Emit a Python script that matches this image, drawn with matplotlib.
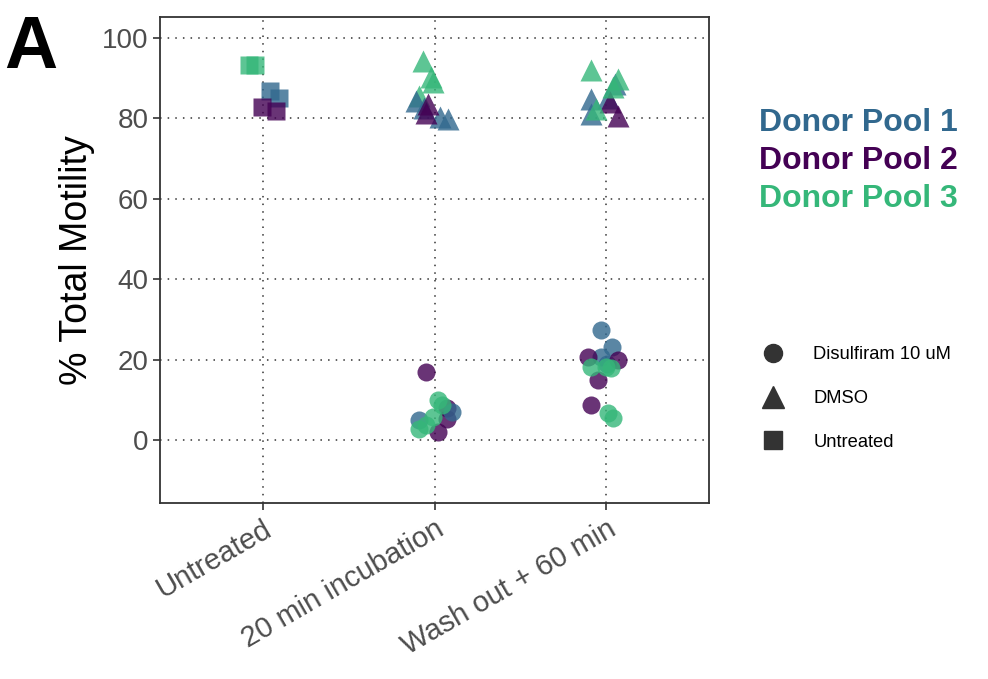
import matplotlib.pyplot as plt
from matplotlib.lines import Line2D

plt.rcParams['font.family'] = ['Liberation Sans', 'DejaVu Sans']

# categories on the x axis
timepoints = ['Untreated', '20 min incubation', 'Wash out + 60 min']
pools = ['Donor Pool 1', 'Donor Pool 2', 'Donor Pool 3']
pool_colors = {'Donor Pool 1': '#31688e', 'Donor Pool 2': '#440154', 'Donor Pool 3': '#35b779'}
treatments = ['Disulfiram 10 uM', 'DMSO', 'Untreated']
treat_markers = {'Disulfiram 10 uM': 'o', 'DMSO': '^', 'Untreated': 's'}

# per point: timepoint index, donor pool, jitter, % total motility
untreated_tp = [0, 0, 0, 0, 0, 0]
untreated_pool = ['Donor Pool 3', 'Donor Pool 3', 'Donor Pool 1', 'Donor Pool 1', 'Donor Pool 2', 'Donor Pool 2']
untreated_jit = [-0.08, -0.045, 0.04, 0.09, -0.005, 0.075]
untreated_val = [93.2, 93.2, 86.7, 85.1, 82.8, 81.8]

dmso_tp = [1, 1, 1, 1, 1, 1, 1, 1, 1, 1,
           2, 2, 2, 2, 2, 2, 2, 2, 2, 2]
dmso_pool = ['Donor Pool 3', 'Donor Pool 3', 'Donor Pool 3', 'Donor Pool 3',
             'Donor Pool 1', 'Donor Pool 1', 'Donor Pool 1', 'Donor Pool 1',
             'Donor Pool 2', 'Donor Pool 2',
             'Donor Pool 1', 'Donor Pool 1', 'Donor Pool 1', 'Donor Pool 1',
             'Donor Pool 2', 'Donor Pool 2',
             'Donor Pool 3', 'Donor Pool 3', 'Donor Pool 3', 'Donor Pool 3']
dmso_jit = [-0.07, -0.02, -0.01, -0.09,
            -0.11, -0.06, 0.03, 0.075,
            -0.04, -0.05,
            -0.09, 0.05, -0.09, 0.01,
            0.065, 0.02,
            -0.09, 0.07, 0.04, -0.06]
dmso_val = [94.3, 90.2, 89.0, 85.6,
            84.4, 82.5, 80.3, 79.8,
            83.5, 81.3,
            84.8, 88.5, 81.0, 85.0,
            80.5, 84.0,
            92.0, 89.8, 87.8, 82.3]

dsf_tp = [1, 1, 1, 1, 1, 1, 1, 1, 1, 1, 1,
          2, 2, 2, 2, 2, 2, 2, 2, 2, 2, 2, 2, 2]
dsf_pool = ['Donor Pool 2', 'Donor Pool 2', 'Donor Pool 2', 'Donor Pool 2',
            'Donor Pool 1', 'Donor Pool 1',
            'Donor Pool 3', 'Donor Pool 3', 'Donor Pool 3', 'Donor Pool 3', 'Donor Pool 3',
            'Donor Pool 1', 'Donor Pool 1', 'Donor Pool 1', 'Donor Pool 1',
            'Donor Pool 2', 'Donor Pool 2', 'Donor Pool 2', 'Donor Pool 2',
            'Donor Pool 3', 'Donor Pool 3', 'Donor Pool 3', 'Donor Pool 3', 'Donor Pool 3']
dsf_jit = [-0.05, 0.07, 0.07, 0.02,
           0.1, -0.09,
           0.02, 0.04, -0.01, -0.09, -0.05,
           -0.03, 0.035, -0.03, 0.005,
           -0.11, 0.07, -0.05, -0.09,
           -0.09, 0.0, 0.025, 0.01, 0.04]
dsf_val = [17.0, 8.0, 5.2, 1.9,
           7.0, 5.0,
           10.0, 8.7, 5.7, 2.8, 3.8,
           27.4, 23.1, 20.6, 19.0,
           20.6, 19.9, 14.9, 8.7,
           18.2, 18.2, 17.9, 6.7, 5.5]

groups = [('Untreated', untreated_tp, untreated_pool, untreated_jit, untreated_val),
          ('DMSO', dmso_tp, dmso_pool, dmso_jit, dmso_val),
          ('Disulfiram 10 uM', dsf_tp, dsf_pool, dsf_jit, dsf_val)]
marker_size = {'o': 13, '^': 16, 's': 13}

fig = plt.figure(figsize=(9.88, 6.79), dpi=100)
ax = fig.add_axes([0.162, 0.259, 0.556, 0.716])

for treat, tp, pool, jit, val in groups:
    m = treat_markers[treat]
    for t, p, j, v in zip(tp, pool, jit, val):
        ax.plot(t + 1 + j, v, marker=m, ms=marker_size[m], color=pool_colors[p],
                alpha=0.8, mec='none', ls='none')

ax.set_xlim(0.4, 3.6)
ax.set_ylim(-15.7, 105.2)
ax.set_xticks([1, 2, 3])
ax.set_xticklabels(timepoints, rotation=30, ha='right', rotation_mode='anchor')
ax.set_yticks([0, 20, 40, 60, 80, 100])
ax.tick_params(labelcolor='#4d4d4d', color='#333333', length=5, width=1.2)
ax.tick_params(axis='y', labelsize=20)
ax.tick_params(axis='x', labelsize=21)
ax.set_ylabel('% Total Motility', fontsize=27, labelpad=5)
ax.grid(True, color='#333333', ls=(0, (1, 4)), lw=1.1)
for s in ax.spines.values():
    s.set_color('#333333')
    s.set_linewidth(1.3)

fig.text(0.004, 0.98, 'A', fontsize=53, fontweight='bold', va='top')

for i, p in enumerate(pools):
    fig.text(0.768, 1 - (123 + 38 * i) / 679, p, color=pool_colors[p],
             fontsize=23, fontweight='bold', va='center')

handles = [Line2D([], [], marker=treat_markers[t], color='#333333', ls='none',
                  ms=13 if t != 'DMSO' else 16) for t in treatments]
fig.legend(handles, treatments, loc='upper left', bbox_to_anchor=(0.747, 0.514),
           frameon=False, fontsize=13.2, labelspacing=1.45, handletextpad=1.2)

fig.savefig('out.png', dpi=100)
